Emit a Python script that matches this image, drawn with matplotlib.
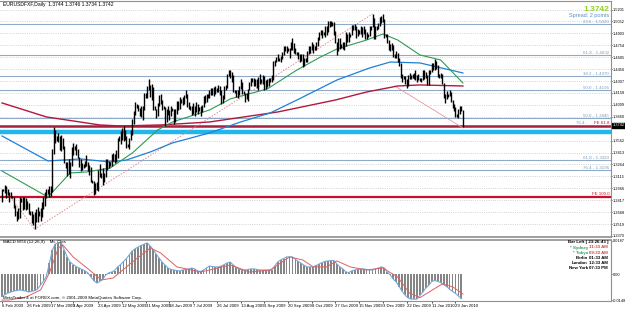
import numpy as np
import pandas as pd
import matplotlib
matplotlib.use("Agg")
import matplotlib.pyplot as plt
import matplotlib.transforms as mtransforms

plt.rcParams['font.family'] = ['Liberation Sans', 'DejaVu Sans']

W, H = 625, 310

# daily bars (Sun..Fri) from 6 Feb 2009, prices * 10000
lows = [
    12800,
    12930, 12910, 12850, 12880, 12790, 12840,
    12840, 12720, 12620, 12560, 12580, 12600,
    12800, 12700, 12710, 12700, 12710, 12650,
    12630, 12530, 12510, 12456, 12540, 12550,
    12620, 12560, 12610, 12710, 12750, 12840,
    12900, 12860, 12870, 12920, 13390, 13530,
    13560, 13550, 13440, 13430, 13460, 13280,
    13220, 13120, 13150, 13100, 13240, 13380,
    13440, 13380, 13340, 13230, 13180, 13200,
    13220, 13230, 13240, 13180, 13130, 13040,
    13030, 12885, 12890, 12950, 12930, 13110,
    13100, 13010, 13050, 13110, 13200, 13220,
    13240, 13240, 13310, 13280, 13300, 13340,
    13560, 13520, 13570, 13560, 13570, 13470,
    13480, 13460, 13570, 13630, 13770, 13880,
    13970, 13930, 13870, 13860, 13820, 13950,
    14100, 14090, 14190, 14110, 14070, 13950,
    13940, 13850, 13870, 14000, 14020, 13950,
    13960, 13750, 13800, 13880, 13820, 13870,
    13930, 13770, 13800, 13900, 13940, 13960,
    14030, 14010, 14020, 14090, 13980, 13960,
    13940, 13880, 13900, 13870, 13920, 13900,
    13930, 13870, 13920, 13980, 14030, 14050,
    14100, 14100, 14130, 14130, 14120, 14150,
    14170, 14170, 14130, 14020, 14030, 14080,
    14200, 14220, 14370, 14340, 14300, 14170,
    14160, 14110, 14100, 14130, 14210, 14150,
    14140, 14045, 14080, 14060, 14200, 14240,
    14300, 14250, 14240, 14220, 14200, 14270,
    14280, 14270, 14200, 14210, 14230, 14250,
    14290, 14300, 14320, 14500, 14540, 14560,
    14560, 14550, 14580, 14630, 14680, 14660,
    14680, 14600, 14690, 14690, 14660, 14640,
    14630, 14580, 14550, 14560, 14485, 14490,
    14540, 14540, 14640, 14660, 14690, 14660,
    14700, 14700, 14740, 14820, 14880, 14840,
    14880, 14860, 14880, 14920, 14980, 14990,
    14990, 14880, 14780, 14630, 14680, 14710,
    14720, 14710, 14690, 14740, 14800, 14790,
    14860, 14880, 14940, 14950, 14850, 14870,
    14900, 14900, 14860, 14900, 14830, 14830,
    14860, 14870, 14940, 14980, 14830, 14830,
    14940, 14960, 15000, 15030, 15040, 14850,
    14860, 14780, 14700, 14680, 14690, 14610,
    14590, 14590, 14540, 14500, 14340, 14300,
    14330, 14270, 14220, 14250, 14330, 14330,
    14350, 14330, 14320, 14290, 14320, 14310,
    14300, 14320, 14330, 14340, 14260, 14260,
    14400, 14420, 14450, 14440, 14460, 14360,
    14350, 14350, 14270, 14100, 14030, 14080,
    14110, 14120, 14040, 13970, 13930, 13860,
    13860, 13850, 13900, 13930, 13734,
]
highs = [
    12960,
    12960, 13010, 12990, 12960, 12920, 12920,
    12870, 12860, 12760, 12680, 12720, 12860,
    12850, 12860, 12860, 12840, 12810, 12780,
    12680, 12680, 12640, 12670, 12710, 12730,
    12680, 12720, 12790, 12860, 12920, 12960,
    12960, 12990, 12990, 13460, 13738, 13700,
    13620, 13660, 13620, 13630, 13600, 13500,
    13300, 13300, 13330, 13290, 13480, 13530,
    13500, 13520, 13460, 13360, 13330, 13280,
    13270, 13310, 13380, 13290, 13260, 13230,
    13070, 13060, 13030, 13050, 13190, 13270,
    13160, 13220, 13160, 13330, 13330, 13310,
    13290, 13390, 13410, 13390, 13440, 13600,
    13620, 13680, 13720, 13740, 13690, 13620,
    13520, 13600, 13690, 13830, 13930, 14050,
    14020, 14010, 13970, 14000, 13990, 14160,
    14160, 14240, 14337, 14260, 14270, 14230,
    13990, 13960, 14030, 14130, 14150, 14070,
    14000, 13980, 13960, 14000, 13950, 13990,
    13970, 13960, 13960, 14060, 14060, 14110,
    14080, 14110, 14130, 14200, 14150, 14050,
    14000, 14000, 14030, 14000, 14050, 14020,
    13980, 14000, 14010, 14120, 14130, 14150,
    14150, 14190, 14220, 14220, 14230, 14240,
    14220, 14260, 14250, 14200, 14130, 14250,
    14260, 14390, 14440, 14445, 14420, 14380,
    14200, 14200, 14190, 14250, 14330, 14300,
    14180, 14160, 14160, 14210, 14300, 14350,
    14350, 14350, 14330, 14330, 14360, 14400,
    14330, 14380, 14370, 14320, 14330, 14340,
    14340, 14380, 14560, 14570, 14610, 14640,
    14600, 14620, 14670, 14740, 14740, 14740,
    14720, 14720, 14800, 14843, 14780, 14720,
    14670, 14670, 14650, 14650, 14640, 14600,
    14590, 14680, 14750, 14750, 14790, 14770,
    14740, 14790, 14860, 14920, 14940, 14940,
    14920, 14990, 14990, 15060, 15060, 15060,
    15040, 15050, 14930, 14800, 14840, 14850,
    14770, 14800, 14800, 14920, 14900, 14920,
    14900, 15010, 15010, 15020, 14990, 14960,
    14940, 15000, 14980, 15000, 14960, 14920,
    14900, 15000, 15000, 15145, 15100, 15000,
    15000, 15030, 15110, 15120, 15145, 15080,
    14900, 14890, 14820, 14770, 14780, 14760,
    14650, 14680, 14660, 14590, 14530, 14400,
    14370, 14370, 14330, 14380, 14410, 14380,
    14390, 14410, 14450, 14380, 14400, 14350,
    14350, 14450, 14440, 14420, 14380, 14440,
    14450, 14530, 14530, 14580, 14560, 14510,
    14390, 14410, 14390, 14280, 14150, 14180,
    14150, 14190, 14170, 14070, 14020, 13980,
    13900, 13960, 14000, 14000, 13950,
]

# moving averages (bar index, price)
green_i = [0, 31, 46, 57, 73, 88, 105, 115, 140, 154, 179, 199, 215, 226, 246, 257, 267, 282, 296, 311]
green_p = [1.3182, 1.2857, 1.3158, 1.3170, 1.3220, 1.3408, 1.3695, 1.3795, 1.3945, 1.4083,
           1.4208, 1.4445, 1.4608, 1.4708, 1.4820, 1.4895, 1.4820, 1.4633, 1.4570, 1.4283]
blue_i = [0, 31, 53, 73, 84, 100, 115, 140, 161, 181, 199, 226, 248, 262, 282, 311]
blue_p = [1.3620, 1.3308, 1.3333, 1.3295, 1.3320, 1.3420, 1.3533, 1.3658, 1.3795, 1.3908,
          1.4070, 1.4320, 1.4470, 1.4545, 1.4533, 1.4408]
red_i = [0, 30, 66, 80, 107, 140, 186, 225, 246, 267, 282, 311]
red_p = [1.4033, 1.3858, 1.3758, 1.3745, 1.3758, 1.3795, 1.3920, 1.4070, 1.4170, 1.4245, 1.4258, 1.4245]

# fibo levels
fib_levels = [1.5020, 1.4632, 1.4370, 1.4195, 1.3845, 1.3320, 1.3195]
fib_labels = ['23.6 - 1.5020', '61.8 - 1.4632', '38.2 - 1.4370', '50.0 - 1.4195',
              '50.0 - 1.3845', '61.8 - 1.3320', '76.4 - 1.3195']
fe618 = 1.3750
fe1000 = 1.2857
cyan_level = 1.3676

# trend lines (bar index pairs, price pairs)
trend_i = [[2, 22], [22, 250], [265, 311]]
trend_p = [[1.2945, 1.2456], [1.2456, 1.5145], [1.4245, 1.3720]]

price_ticks = [1.2370, 1.2519, 1.2668, 1.2817, 1.2966, 1.3115, 1.3264, 1.3413, 1.3562,
               1.3860, 1.4009, 1.4158, 1.4307, 1.4456, 1.4605, 1.4754, 1.4903, 1.5052, 1.5201]

# MACD histogram every second bar (x 1e-4) and signal line
macd_hist = [-124, -113, -105, -99, -94, -91, -88, -91, -94, -99,
             -96, -91, -83, -61, -39, -11, 61, 132, 165, 171,
             171, 132, 94, 66, 52, 41, 33, 25, 17, 6,
             -17, -36, -50, -41, -28, -6, 6, 11, 19, 39,
             52, 69, 85, 107, 127, 140, 149, 157, 165, 171,
             154, 135, 110, 88, 66, 50, 33, 25, 22, 19,
             17, 22, 25, 28, 33, 28, 17, 14, 22, 33,
             44, 41, 39, 39, 44, 52, 61, 66, 50, 36,
             28, 22, 22, 25, 28, 28, 25, 22, 22, 22,
             22, 22, 44, 66, 77, 85, 94, 94, 94, 80,
             69, 58, 47, 39, 39, 39, 47, 55, 63, 69,
             72, 74, 74, 55, 39, 28, 11, 8, 17, 22,
             25, 28, 28, 25, 22, 22, 28, 33, 39, 33,
             11, -6, -28, -44, -69, -96, -116, -132, -138, -138,
             -138, -118, -99, -77, -61, -41, -36, -41, -47, -58,
             -69, -83, -96, -107, -121, -135]
sig_i = [0, 5, 16, 26, 32, 38, 41, 48, 59, 67, 75, 88, 100, 107, 118, 134, 140, 154, 167, 181,
         194, 203, 210, 219, 226, 235, 246, 257, 267, 275, 282, 289, 297, 304, 311]
sig_v = [-143, -143, -127, -88, 6, 143, 160, 94, 22, -33, -22, 66, 143, 116, 39, 11, 22, 50, 11, 22,
         94, 77, 39, 39, 72, 39, 22, 33, -17, -105, -130, -95, -55, -70, -110]

date_labels = ['6 Feb 2009', '26 Feb 2009', '17 Mar 2009', '3 Apr 2009', '23 Apr 2009',
               '12 May 2009', '31 May 2009', '18 Jun 2009', '7 Jul 2009', '26 Jul 2009',
               '13 Aug 2009', '1 Sep 2009', '20 Sep 2009', '8 Oct 2009', '27 Oct 2009',
               '15 Nov 2009', '3 Dec 2009', '22 Dec 2009', '11 Jan 2010', '29 Jan 2010']

clocks = [('* Sydney', '11:33 AM', '#2e9e5b', '#d04040'),
          ('* Tokyo', '09:33 AM', '#2e9e5b', '#d04040'),
          ('Berlin', '01:33 AM', 'black', 'black'),
          ('London', '12:33 AM', 'black', 'black'),
          ('New York', '07:33 PM', 'black', 'black')]


def fy(y):
    return 1 - y / H


fig = plt.figure(figsize=(W / 100, H / 100), dpi=100)
fig.patch.set_facecolor('white')
ax = fig.add_axes([0, fy(237), 611 / W, 236 / H])
ax2 = fig.add_axes([0, fy(301), 611 / W, 61 / H])

n = min(len(lows), len(highs))
days = pd.date_range('2009-02-06', '2010-02-04')
days = days[days.dayofweek != 5][:n]
idx = np.arange(n)
lo = np.array(lows[:n]) / 10000
hi = np.array(highs[:n]) / 10000

px_bar = 1.482
xlim = (-2 / px_bar, (611 - 2) / px_bar)

# --- price panel
ax.set_xlim(*xlim)
ax.set_ylim(1.235725, 1.53075)
ax.set_yticks(price_ticks)
ax.set_yticklabels(['%.4f' % t for t in price_ticks])
ax.yaxis.tick_right()
ax.tick_params(axis='y', labelsize=2.8, length=0.8, pad=0.4, width=0.5)
ax.set_xticks([])
ax.grid(axis='y', linestyle=':', color='#c4c4c4', lw=0.6)
ax.spines['left'].set_visible(False)
for s in ['top', 'right', 'bottom']:
    ax.spines[s].set_color('#909090')
ax.spines['bottom'].set_linewidth(1.2)

trans = mtransforms.blended_transform_factory(ax.transAxes, ax.transData)
for lvl, lab in zip(fib_levels, fib_labels):
    ax.axhline(lvl, color='#8eaac6', lw=0.8, zorder=1)
    ax.text(0.997, lvl + 0.0004, lab, transform=trans, ha='right', va='bottom',
            fontsize=3.2, color='#7f9bb8')

ax.axhline(cyan_level, color='#22b6ec', lw=3.2, zorder=1)
ax.axhline(fe618, color='#a3203f', lw=1.8, zorder=2)
ax.axhline(fe1000, color='#c8102e', lw=1.6, zorder=2)
ax.text(0.997, fe618 + 0.0012, 'FE 61.8', transform=trans, ha='right', va='bottom',
        fontsize=3.2, color='#c8102e')
ax.text(0.962, fe618 + 0.0012, '76.4 -', transform=trans, ha='right', va='bottom',
        fontsize=3.2, color='#7f9bb8')
ax.text(0.997, fe1000 + 0.0012, 'FE 100.0', transform=trans, ha='right', va='bottom',
        fontsize=3.2, color='#c8102e')

for ti, tp in zip(trend_i[:2], trend_p[:2]):
    ax.plot(ti, tp, color='#e58a8a', lw=0.7, ls=(0, (1.5, 1.5)), zorder=3)
ax.plot(trend_i[2], trend_p[2], color='#e59a9a', lw=0.6, zorder=3)

ax.plot(red_i, red_p, color='#b3183f', lw=1.0, zorder=4)
ax.plot(blue_i, blue_p, color='#1f80d6', lw=0.9, zorder=4)
ax.plot(green_i, green_p, color='#2f9a55', lw=0.8, zorder=4)

ax.vlines(idx, lo, hi, color='black', lw=1.0, zorder=5)

# --- MACD panel
macd_i = np.arange(len(macd_hist)) * 2
macd_v = np.array(macd_hist) / 10000
ax2.set_xlim(*xlim)
ax2.set_ylim(-0.01485, 0.0187)
ax2.bar(macd_i, macd_v, width=1.25, color='#858585', lw=0, zorder=2)
ax2.plot(macd_i, macd_v, color='#78a8da', lw=0.8, zorder=3)
ax2.plot(sig_i, np.array(sig_v) / 10000, color='#e06060', lw=0.7, zorder=4)
ax2.yaxis.tick_right()
ax2.set_yticks([0.0182, 0.0, -0.0143])
ax2.set_yticklabels(['0.0187', '0.00', '-0.0148'])
ax2.tick_params(axis='y', labelsize=2.8, length=0.8, pad=0.4, width=0.5)

lbl_pos = [int(np.searchsorted(days.values, pd.to_datetime(d, format='%d %b %Y').to_datetime64()))
           for d in date_labels]
ax2.set_xticks(lbl_pos)
ax2.set_xticklabels(date_labels, ha='left')
ax2.tick_params(axis='x', labelsize=3.1, length=1.5, pad=0.8, width=0.5)
ax2.spines['left'].set_visible(False)
for s in ['top', 'right', 'bottom']:
    ax2.spines[s].set_color('#909090')
ax2.spines['top'].set_linewidth(1.2)

# --- texts
fig.text(3 / W, fy(4.5), 'EURUSDFXF,Daily  1.3744 1.3746 1.3734 1.3742', fontsize=3.6, va='center')
fig.text(609 / W, fy(9.5), '1.3742', fontsize=6, fontweight='bold', color='#8fd12a',
         ha='right', va='center')
fig.text(609 / W, fy(15.5), 'Spread: 2 points', fontsize=4.0, color='#5f8fc0', ha='right', va='center')
fig.text(612.5 / W, fy(125.5), '1.3742', fontsize=2.8, color='white', va='center',
         bbox=dict(facecolor='black', edgecolor='black', pad=0.5))

fig.text(3 / W, fy(242.5), 'MACD MT4 (12,26,9)    Mt. Clos', fontsize=3.2, va='center')
fig.text(3 / W, fy(298.5), 'MetaTrader 4 at FOREX.com, \u00a9 2001-2009 MetaQuotes Software Corp.',
         fontsize=3.2, va='center')
fig.text(608 / W, fy(242), 'Bar Left [ 23:26:43 ]', fontsize=3.2, fontweight='bold',
         ha='right', va='center')
for k, (name, tm, c1, c2) in enumerate(clocks):
    yy = fy(247.5 + 5.2 * k)
    fig.text(588 / W, yy, name, fontsize=3.2, fontweight='bold', color=c1, ha='right', va='center')
    fig.text(608 / W, yy, tm, fontsize=3.2, fontweight='bold', color=c2, ha='right', va='center')

fig.savefig('out.png', dpi=100, facecolor='white')
